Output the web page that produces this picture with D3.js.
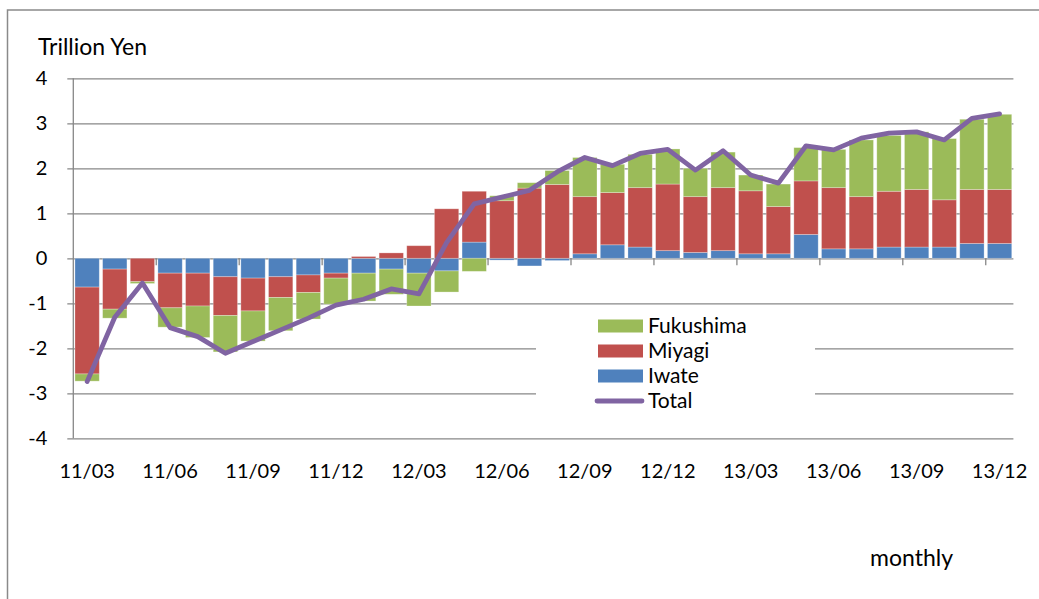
<!DOCTYPE html>
<html>
<head>
<meta charset="utf-8">
<script src="https://cdn.jsdelivr.net/npm/d3@7"></script>
<style>
  html, body { margin: 0; padding: 0; background: #fff; }
  svg { display: block; font-family: Lato, "Open Sans", sans-serif; }
</style>
</head>
<body>
<svg id="chart" width="1039" height="599"></svg>
<script>
// Monthly change by prefecture, trillion yen (Mar 2011 – Dec 2013)
const months = [
  "11/03","11/04","11/05","11/06","11/07","11/08","11/09","11/10","11/11","11/12",
  "12/01","12/02","12/03","12/04","12/05","12/06","12/07","12/08","12/09","12/10","12/11","12/12",
  "13/01","13/02","13/03","13/04","13/05","13/06","13/07","13/08","13/09","13/10","13/11","13/12"
];
const iwate = [
  -0.64,-0.24,0.00,-0.33,-0.33,-0.41,-0.44,-0.41,-0.37,-0.33,
  -0.33,-0.24,-0.33,-0.28,0.36,-0.04,-0.17,-0.05,0.10,0.30,0.25,0.17,
  0.13,0.17,0.10,0.10,0.53,0.21,0.21,0.25,0.25,0.25,0.33,0.33
];
const miyagi = [
  -1.93,-0.89,-0.52,-0.77,-0.73,-0.86,-0.73,-0.46,-0.39,-0.11,
  0.04,0.12,0.28,1.10,1.13,1.28,1.56,1.64,1.27,1.16,1.32,1.48,
  1.24,1.40,1.40,1.05,1.19,1.36,1.16,1.24,1.28,1.05,1.20,1.20
];
const fukushima = [
  -0.16,-0.20,-0.04,-0.43,-0.70,-0.81,-0.67,-0.74,-0.59,-0.58,
  -0.62,-0.56,-0.73,-0.47,-0.29,0.11,0.12,0.31,0.87,0.63,0.74,0.78,
  0.63,0.79,0.35,0.50,0.74,0.85,1.26,1.24,1.28,1.36,1.56,1.67
];
const total = [
  -2.74,-1.31,-0.55,-1.54,-1.74,-2.11,-1.85,-1.59,-1.33,-1.04,
  -0.91,-0.68,-0.79,0.35,1.21,1.36,1.51,1.92,2.24,2.06,2.33,2.42,
  1.96,2.39,1.85,1.67,2.50,2.41,2.67,2.78,2.81,2.63,3.11,3.21
];
const yTicks = [-4,-3,-2,-1,0,1,2,3,4];
const xLabelMonths = months.filter((m, i) => i % 3 === 0);

const seriesKeys = ["Iwate", "Miyagi", "Fukushima"];
const colors = { Iwate: "#4F81BD", Miyagi: "#C0504D", Fukushima: "#9BBB59", Total: "#8064A2" };
const gridColor = "#878787";

const rows = months.map((m, i) => ({ month: m, Iwate: iwate[i], Miyagi: miyagi[i], Fukushima: fukushima[i], Total: total[i] }));

const svg = d3.select("#chart");
const plotLeft = 73.3, plotRight = 1013.4, plotTop = 78.3, plotBottom = 438.3;

const x = d3.scaleBand().domain(months).range([plotLeft, plotRight]).paddingInner(0.12).paddingOuter(0.06);
const y = d3.scaleLinear().domain([-4, 4]).range([plotBottom, plotTop]);

// chart frame (top and left edges)
svg.append("path")
  .attr("d", "M7.5,599 V10 H1039")
  .attr("fill", "none").attr("stroke", "#8a8a8a").attr("stroke-width", 1.5);

// horizontal gridlines + left tick marks
const yAxis = d3.axisLeft(y).tickValues(yTicks).tickSize(-(plotRight - plotLeft)).tickFormat(d3.format("d"));
const gy = svg.append("g").attr("transform", `translate(${plotLeft},0)`).call(yAxis);
gy.select(".domain").remove();
gy.selectAll(".tick line").attr("stroke", gridColor).attr("stroke-width", 1.3).attr("x1", -6);
gy.selectAll(".tick text")
  .attr("x", -26).attr("fill", "#000")
  .style("font-size", "20px").style("font-family", "Lato, sans-serif")
  .text(d => d < 0 ? "-" + Math.abs(d) : d);

// vertical axis line
svg.append("line")
  .attr("x1", plotLeft).attr("x2", plotLeft).attr("y1", plotTop).attr("y2", plotBottom)
  .attr("stroke", gridColor).attr("stroke-width", 1.3);

// stacked bars
const stack = d3.stack().keys(seriesKeys).offset(d3.stackOffsetDiverging);
const stacked = stack(rows);
svg.append("g").selectAll("g")
  .data(stacked).join("g")
  .attr("fill", d => colors[d.key])
  .selectAll("rect")
  .data(d => d).join("rect")
  .attr("x", d => x(d.data.month))
  .attr("width", x.bandwidth())
  .attr("y", d => y(Math.max(d[0], d[1])))
  .attr("height", d => Math.abs(y(d[0]) - y(d[1])))
  .attr("stroke", "#ffffff").attr("stroke-opacity", 0.35).attr("stroke-width", 0.8);

// category axis along zero, tick marks every three months
const boundaries = d3.range(0, months.length + 1, 3).filter(i => i > 0);
svg.append("g").selectAll("line")
  .data(boundaries).join("line")
  .attr("x1", i => plotLeft + i * x.step()).attr("x2", i => plotLeft + i * x.step())
  .attr("y1", y(0)).attr("y2", y(0) + 7)
  .attr("stroke", gridColor).attr("stroke-width", 1.3);

// month labels under the plot
svg.append("g").selectAll("text")
  .data(xLabelMonths).join("text")
  .attr("x", m => x(m) + x.bandwidth() / 2)
  .attr("y", 478)
  .attr("text-anchor", "middle")
  .style("font-size", "20px")
  .text(m => m);

// total line
const line = d3.line()
  .x(d => x(d.month) + x.bandwidth() / 2)
  .y(d => y(d.Total));
svg.append("path")
  .datum(rows)
  .attr("d", line)
  .attr("fill", "none")
  .attr("stroke", colors.Total)
  .attr("stroke-width", 4.8)
  .attr("stroke-linejoin", "round")
  .attr("stroke-linecap", "round");

// legend
const legend = svg.append("g");
legend.append("rect").attr("x", 536).attr("y", 308).attr("width", 279).attr("height", 114).attr("fill", "#fff");
const legendItems = ["Fukushima", "Miyagi", "Iwate", "Total"];
legendItems.forEach((k, i) => {
  const cy = 326 + i * 25;
  if (k === "Total") {
    legend.append("line").attr("x1", 597).attr("x2", 642).attr("y1", cy).attr("y2", cy)
      .attr("stroke", colors.Total).attr("stroke-width", 4.8).attr("stroke-linecap", "round");
  } else {
    legend.append("rect").attr("x", 598).attr("y", cy - 6.5).attr("width", 45).attr("height", 13).attr("fill", colors[k]);
  }
  legend.append("text").attr("x", 648).attr("y", cy + 7).style("font-size", "21px").text(k);
});

// axis titles
svg.append("text").attr("x", 38).attr("y", 55).style("font-size", "23px").text("Trillion Yen");
svg.append("text").attr("x", 870).attr("y", 566).style("font-size", "23px").text("monthly");
</script>
</body>
</html>
